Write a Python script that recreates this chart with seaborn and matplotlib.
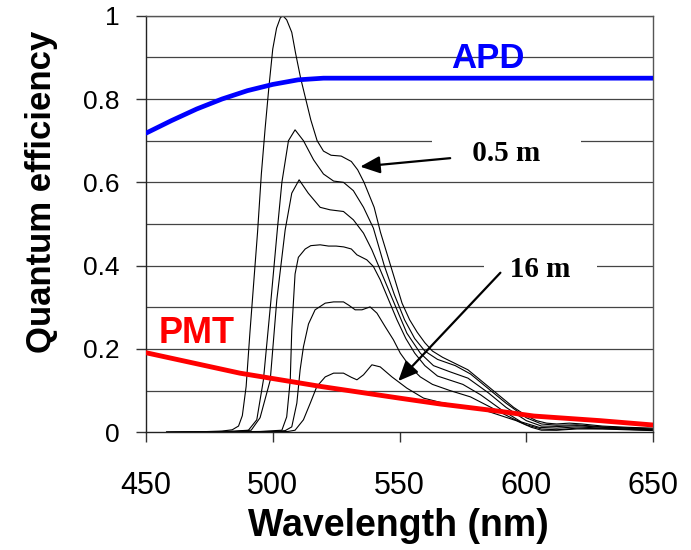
import pandas as pd
import matplotlib.pyplot as plt
import seaborn as sns

# Espectros transmitidos (0.5 m ... 16 m)
wl_1 = [458, 470, 480, 484, 486.5, 488, 489.5, 491, 492.5, 494, 495.5, 497, 498.5, 500, 501.5, 503, 504,
        505.5, 507.5, 509, 511, 513, 515, 517.5, 520, 523, 527, 531, 533.5, 536, 538, 540, 542.5, 545,
        548, 551, 554, 557, 560, 563, 567, 572, 577, 581, 585, 590, 595, 600, 604, 608, 612, 617, 622,
        630, 640, 650]
qe_1 = [0, 0.001, 0.003, 0.006, 0.015, 0.04, 0.11, 0.24, 0.36, 0.48, 0.62, 0.73, 0.83, 0.92, 0.97, 0.995,
        1.0, 0.99, 0.96, 0.91, 0.85, 0.80, 0.75, 0.70, 0.675, 0.665, 0.663, 0.65, 0.63, 0.60, 0.57, 0.54,
        0.48, 0.43, 0.37, 0.31, 0.27, 0.24, 0.215, 0.195, 0.18, 0.165, 0.15, 0.13, 0.11, 0.085, 0.06,
        0.04, 0.028, 0.022, 0.02, 0.022, 0.02, 0.015, 0.012, 0.01]

wl_2 = [458, 475, 485, 490.4, 493.7, 496.3, 499.3, 501.8, 503.6, 506.2, 508.8, 512.1, 516.1, 520, 524,
        527.9, 531.8, 535.8, 539.7, 544, 548, 552, 556, 560, 565, 572, 578, 585, 592, 600, 606, 612,
        620, 630, 650]
qe_2 = [0, 0.001, 0.003, 0.005, 0.03, 0.125, 0.318, 0.486, 0.60, 0.70, 0.726, 0.70, 0.654, 0.62, 0.603,
        0.60, 0.58, 0.54, 0.49, 0.40, 0.33, 0.27, 0.225, 0.195, 0.175, 0.16, 0.14, 0.105, 0.07, 0.035,
        0.02, 0.017, 0.018, 0.013, 0.008]

wl_3 = [458, 475, 485, 491.5, 495, 499, 501.6, 504.9, 507.5, 510.4, 514, 518.7, 522.6, 527.9, 531.8,
        535.8, 539.1, 542.4, 545.7, 549, 552.9, 558.2, 563.4, 570, 577, 585, 592, 600, 606, 613, 620,
        630, 650]
qe_3 = [0, 0.001, 0.002, 0.005, 0.035, 0.125, 0.318, 0.486, 0.574, 0.606, 0.574, 0.54, 0.534, 0.53,
        0.51, 0.478, 0.438, 0.39, 0.342, 0.294, 0.238, 0.19, 0.16, 0.145, 0.13, 0.095, 0.06, 0.028,
        0.015, 0.014, 0.016, 0.012, 0.007]

wl_4 = [458, 480, 495, 503.6, 505.5, 506.9, 507.5, 508.8, 510.1, 512.8, 515, 518.7, 522, 525, 528, 531,
        533.2, 537.1, 539.7, 542.4, 545.7, 549, 552.5, 556, 560, 565, 575, 582, 590, 598, 605, 612,
        620, 630, 650]
qe_4 = [0, 0.001, 0.002, 0.005, 0.037, 0.125, 0.245, 0.38, 0.42, 0.44, 0.448, 0.45, 0.447, 0.447,
        0.445, 0.44, 0.426, 0.414, 0.398, 0.366, 0.318, 0.27, 0.225, 0.19, 0.16, 0.135, 0.115, 0.09,
        0.055, 0.025, 0.012, 0.01, 0.013, 0.01, 0.006]

wl_5 = [458, 485, 500, 504.9, 507.5, 509.5, 510.8, 512.1, 514.1, 516.7, 520.7, 524, 527.9, 530, 532.5,
        535.2, 538.4, 541.1, 544.4, 547.6, 550.3, 554.2, 558.2, 563, 570, 578, 586, 594, 600, 606,
        612, 620, 635, 650]
qe_5 = [0, 0.001, 0.002, 0.004, 0.013, 0.07, 0.15, 0.205, 0.26, 0.294, 0.31, 0.313, 0.313, 0.305,
        0.294, 0.294, 0.301, 0.286, 0.253, 0.222, 0.19, 0.157, 0.133, 0.115, 0.10, 0.085, 0.06, 0.035,
        0.018, 0.008, 0.006, 0.01, 0.008, 0.005]

wl_6 = [458, 490, 506, 508.8, 512.1, 514.8, 517.4, 520.7, 524, 527.9, 531, 533.2, 535.8, 539.1, 542.4,
        547, 552.9, 559.5, 566, 575, 583, 590, 596, 602, 606, 612, 620, 630, 650]
qe_6 = [0, 0.001, 0.002, 0.005, 0.03, 0.07, 0.11, 0.133, 0.142, 0.142, 0.132, 0.126, 0.138, 0.162,
        0.157, 0.133, 0.106, 0.082, 0.072, 0.062, 0.054, 0.04, 0.028, 0.012, 0.005, 0.005, 0.008, 0.008,
        0.004]

# Eficiência quântica dos detectores
apd_wl = [450, 460, 470, 480, 490, 500, 510, 520, 650]
apd_qe = [0.718, 0.748, 0.776, 0.80, 0.82, 0.835, 0.846, 0.85, 0.85]
pmt_wl = [450, 487, 519, 550, 566, 590, 603, 629, 650]
pmt_qe = [0.191, 0.142, 0.11, 0.082, 0.068, 0.05, 0.039, 0.028, 0.0175]

y_ticks = [0, 0.2, 0.4, 0.6, 0.8, 1.0]
y_tick_labels = ['0', '0.2', '0.4', '0.6', '0.8', '1']
x_ticks = [450, 500, 550, 600, 650]

# Monta tabela longa com os espectros
espectros = [(wl_1, qe_1), (wl_2, qe_2), (wl_3, qe_3), (wl_4, qe_4), (wl_5, qe_5), (wl_6, qe_6)]
partes = []
for i, (wl, qe) in enumerate(espectros):
    partes.append(pd.DataFrame({'wl': wl, 'qe': qe, 'curva': i}))
df_spec = pd.concat(partes, ignore_index=True)
df_apd = pd.DataFrame({'wl': apd_wl, 'qe': apd_qe})
df_pmt = pd.DataFrame({'wl': pmt_wl, 'qe': pmt_qe})

sns.set_theme(style='white')
plt.rcParams['font.family'] = ['Liberation Sans', 'DejaVu Sans']
plt.rcParams['text.color'] = 'black'
plt.rcParams['axes.labelcolor'] = 'black'
plt.rcParams['xtick.color'] = 'black'
plt.rcParams['ytick.color'] = 'black'

fig = plt.figure(figsize=(6.91, 5.5), dpi=100)
ax = fig.add_axes([0.2113, 0.214, 0.7337, 0.7575])

# linhas de grade a cada 0.1
for g in [i / 10 for i in range(1, 11)]:
    ax.axhline(g, color='#444444', lw=0.9, zorder=0)

sns.lineplot(data=df_spec, x='wl', y='qe', units='curva', estimator=None, sort=False,
             color='black', lw=0.8, ax=ax, zorder=2)
sns.lineplot(data=df_apd, x='wl', y='qe', color='#0000ff', lw=3.4, ax=ax, zorder=5)
sns.lineplot(data=df_pmt, x='wl', y='qe', color='#ff0000', lw=3.5, ax=ax, zorder=5)

ax.set_xlim(450, 650)
ax.set_ylim(0, 1)
ax.set_xticks(x_ticks)
ax.set_yticks(y_ticks)
ax.set_yticklabels(y_tick_labels)
ax.set_xlabel('')
ax.set_ylabel('')
ax.tick_params(axis='x', direction='out', length=7, width=1, color='#333333',
               labelcolor='black', labelsize=22, pad=21, bottom=True)
ax.tick_params(axis='y', direction='out', length=7, width=1, color='#333333',
               labelcolor='black', labelsize=19, pad=12, left=True)
for s in ax.spines.values():
    s.set_color('#555555')
    s.set_linewidth(1)
ax.spines['left'].set_color('#222222')
ax.spines['bottom'].set_color('#222222')

# rótulos dos detectores
ax.text(584.8, 0.874, 'APD', color='#0000ff', fontsize=25, fontweight='bold',
        ha='center', va='baseline', zorder=6)
ax.text(470, 0.2136, 'PMT', color='#ff0000', fontsize=26, fontweight='bold',
        ha='center', va='baseline', zorder=6)

# distâncias
ax.text(592.1, 0.65, '     0.5 m     ', family='Liberation Serif', fontsize=21, fontweight='bold',
        color='black', ha='center', va='baseline', zorder=3,
        bbox=dict(boxstyle='square,pad=0.15', fc='white', ec='none'))
ax.text(605.5, 0.3735, '   16 m   ', family='Liberation Serif', fontsize=21, fontweight='bold',
        color='black', ha='center', va='baseline', zorder=3,
        bbox=dict(boxstyle='square,pad=0.15', fc='white', ec='none'))

seta = dict(arrowstyle='-|>,head_length=0.8,head_width=0.35', color='black', lw=1.6,
            mutation_scale=15, shrinkA=0, shrinkB=0)
ax.annotate('', xy=(534.5, 0.6376), xytext=(570.0, 0.658), arrowprops=seta, zorder=7)
ax.annotate('', xy=(549.5, 0.123), xytext=(589.8, 0.383), arrowprops=seta, zorder=7)

fig.text(398 / 691, 1 - 526 / 550, 'Wavelength (nm)', fontsize=27, fontweight='bold',
         color='black', ha='center', va='center')
fig.text(42 / 691, 1 - 192 / 550, 'Quantum efficiency', fontsize=25, fontweight='bold',
         color='black', rotation=90, ha='center', va='center')

plt.savefig('out.png', dpi=100)
plt.close()
